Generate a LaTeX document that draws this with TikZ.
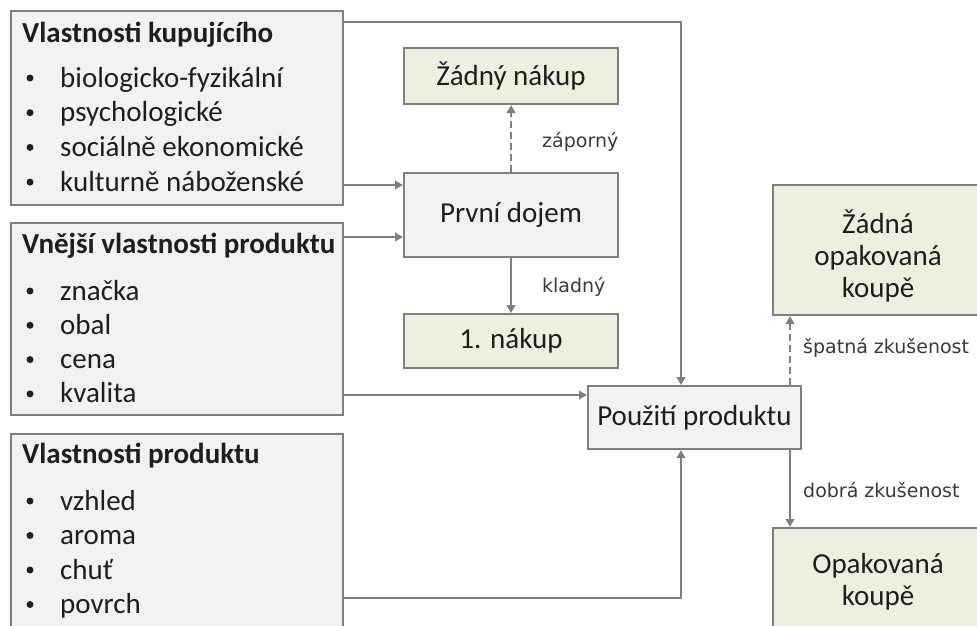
\documentclass[tikz,border=0pt]{standalone}
\usepackage{fontspec}
\setmainfont{Carlito}
\newfontfamily\lblfont{DejaVu Sans}
\usetikzlibrary{arrows.meta}

\definecolor{edge}{HTML}{7F7F7F}
\definecolor{boxgray}{HTML}{F2F2F2}
\definecolor{boxgreen}{HTML}{EBF1DE}
\definecolor{ink}{HTML}{1E1E1E}
\definecolor{lblink}{HTML}{3A3A3A}

\tikzset{
  box/.style={draw=edge, line width=2pt, inner sep=0pt, anchor=north west},
  graybox/.style={box, fill=boxgray},
  greenbox/.style={box, fill=boxgreen},
  main/.style={font=\fontsize{29}{34}\selectfont, text=ink},
  head/.style={font=\fontsize{29}{34}\selectfont\bfseries, text=ink, anchor=base west, inner sep=0pt},
  item/.style={main, anchor=base west, inner sep=0pt},
  dot/.style={circle, fill=ink, minimum size=7pt, inner sep=0pt},
  flow/.style={draw=edge, line width=2.5pt, -{Triangle[length=8pt,width=8.5pt]}},
  flowdash/.style={flow, dash pattern=on 7pt off 4pt},
  lbl/.style={font=\lblfont\fontsize{19}{22}\selectfont, text=lblink, anchor=west, inner sep=0pt},
}

\begin{document}
\begin{tikzpicture}[x=1pt, y=-1pt]
  \useasboundingbox (0,0) rectangle (977,625);
  \fill[white] (0,0) rectangle (977,625);

  % left column: property groups
  \node[graybox, minimum width=332pt, minimum height=194pt] (b1) at (10,10) {};
  \node[graybox, minimum width=332pt, minimum height=192pt] (b2) at (10,222) {};
  \node[graybox, minimum width=332pt, minimum height=212pt] (b3) at (10,433) {};

  \node[head] (b1h) at (22,42) {Vlastnosti kupujícího};
  \foreach \t [count=\i] in {biologicko-fyzikální, psychologické, sociálně ekonomické, kulturně náboženské} {
    \node[dot] (b1d\i) at (30,{87+(\i-1)*34.7-9}) {};
    \node[item] (b1i\i) at (60,{87+(\i-1)*34.7}) {\t};
  }

  \node[head] (b2h) at (22,253) {Vnější vlastnosti produktu};
  \foreach \t [count=\i] in {značka, obal, cena, kvalita} {
    \node[dot] (b2d\i) at (30,{300+(\i-1)*34.3-9}) {};
    \node[item] (b2i\i) at (60,{300+(\i-1)*34.3}) {\t};
  }

  \node[head] (b3h) at (22,463) {Vlastnosti produktu};
  \foreach \t [count=\i] in {vzhled, aroma, chuť, povrch} {
    \node[dot] (b3d\i) at (30,{510+(\i-1)*34.5-9}) {};
    \node[item] (b3i\i) at (60,{510+(\i-1)*34.5}) {\t};
  }

  % middle column
  \node[greenbox, main, minimum width=214pt, minimum height=56pt] (zn) at (403,47) {Žádný nákup};
  \node[graybox, main, minimum width=214pt, minimum height=84pt] (pd) at (403,172) {První dojem};
  \node[greenbox, main, minimum width=214pt, minimum height=54pt] (nk) at (403,313) {1. nákup};
  \node[graybox, main, minimum width=213pt, minimum height=63pt] (pp) at (587,385) {Použití produktu};

  % right column: outcomes
  \node[greenbox, minimum width=213pt, minimum height=130pt] (zo) at (772,184) {};
  \node[main, align=center, font=\fontsize{29}{32}\selectfont] (zot) at (878,256) {Žádná\\opakovaná\\koupě};
  \node[greenbox, minimum width=213pt, minimum height=120pt] (ok) at (772,527) {};
  \node[main, align=center, font=\fontsize{29}{32}\selectfont] (okt) at (878,582) {Opakovaná\\koupě};

  % routing points
  \coordinate (railtop) at (681,22);
  \coordinate (railbot) at (681,598);
  \coordinate (in1) at (0,185);
  \coordinate (in2) at (0,237);
  \coordinate (in3) at (0,395);
  \coordinate (xr) at (790,0);

  % connectors
  \draw[flow] (b1.east |- railtop) -- (railtop) -- (pp.north -| railtop);
  \draw[flow] (b3.east |- railbot) -- (railbot) -- (pp.south -| railbot);
  \draw[flow] (b1.east |- in1) -- (pd.west |- in1);
  \draw[flow] (b2.east |- in2) -- (pd.west |- in2);
  \draw[flow] (b2.east |- in3) -- (pp.west |- in3);
  \draw[flowdash] (pd.north) -- (zn.south);
  \draw[flow] (pd.south) -- (nk.north);
  \draw[flowdash] (pp.north -| xr) -- (zo.south -| xr);
  \draw[flow] (pp.south -| xr) -- (ok.north -| xr);

  % connector labels
  \node[lbl] (l1) at (542,142) {záporný};
  \node[lbl] (l2) at (542,287) {kladný};
  \node[lbl] (l3) at (803,348) {špatná zkušenost};
  \node[lbl] (l4) at (803,490) {dobrá zkušenost};
\end{tikzpicture}
\end{document}
